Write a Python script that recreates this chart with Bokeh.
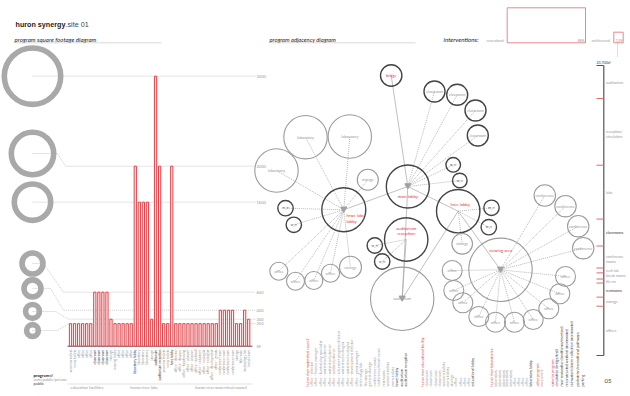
import math
from bokeh.plotting import figure
from bokeh.models import Range1d
from bokeh.core.properties import value
from bokeh.embed import file_html
from bokeh.resources import INLINE

FONT = value("Lato")
SANS = value("Liberation Sans")
RED = "#dd3b42"
PINK = "#e58a8f"
GRAY = "#8c8c8c"
DARK = "#333333"

# ---------------- program square footage data ----------------
bar_labels = ["womens toilets", "mens toilets", "office", "office", "office", "office",
              "classroom", "classroom", "classroom", "classroom", "storage",
              "viewing lobby", "office", "office", "office", "office",
              "laboratory lobby", "laboratory", "laboratory", "laboratory", "storage",
              "auditorium", "auditorium reception", "womens toilets", "mens toilets", "hrec lobby",
              "office - director", "office - finance", "office - fundraising", "office - planner",
              "office - planner", "office - wetland", "office - volunteer", "office - ecologist",
              "office - ecologist", "office - development", "office - grants",
              "conference room", "conference room", "conference room", "conference room",
              "storage", "file room", "technology lab", "break room"]
bar_values = [250, 250, 250, 250, 250, 250,
              600, 600, 600, 600, 300,
              250, 250, 250, 250, 250,
              2000, 1600, 1600, 1600, 300,
              3000, 2000, 250, 250, 2000,
              250, 250, 250, 250, 250, 250, 250, 250, 250, 250, 250,
              400, 400, 400, 400,
              250, 250, 400, 300]
bar_dark = [6, 7, 8, 9, 16, 21, 22, 25]
group_names = ["education facilities", "huron river labs", "huron river watershed council"]
level_values = [3000, 2000, 1600, 600, 400, 300, 250]
level_labels = ["3000", "2000", "1600", "600", "400", "300", "250"]

# ---------------- adjacency diagram data ----------------
node_names = ["bridge", "cls1", "cls2", "cls3", "cls4", "main", "hrwc", "audrec", "hrec",
              "rr1", "rr2", "rr3", "rr4", "rr5", "rr6", "rr7", "rr8",
              "lab1", "lab2", "lab3", "sto1", "sto2", "sto3", "aud", "view",
              "conf1", "conf2", "conf3", "conf4",
              "off1", "off2", "off3", "off4", "off5", "off6", "off7", "off8", "off9", "off10",
              "offL1", "offL2", "offL3", "offL4"]
node_labels = ["bridge", "classroom", "classroom", "classroom", "classroom", "", "", "", "",
               "m_rr", "w_rr", "m_rr", "w_rr", "m_rr", "w_rr", "m_rr", "w_rr",
               "laboratory", "laboratory", "laboratory", "storage", "storage", "storage", "auditorium", "",
               "conference", "conference", "conference", "conference",
               "office", "office", "office", "office", "office", "office", "office", "office", "office", "office",
               "office", "office", "office", "office"]
edges_solid = [("main", "bridge"), ("main", "hrwc"), ("main", "hrec"), ("main", "aud"),
               ("audrec", "aud"), ("hrec", "view"), ("hrec", "aud")]
edges_dotted = [("main", "cls1"), ("main", "cls2"), ("main", "cls3"), ("main", "cls4"),
                ("main", "rr3"), ("main", "rr4"),
                ("hrwc", "lab1"), ("hrwc", "lab2"), ("hrwc", "lab3"), ("hrwc", "sto1"),
                ("hrwc", "rr1"), ("hrwc", "rr2"), ("hrwc", "offL1"), ("hrwc", "offL2"),
                ("hrwc", "offL3"), ("hrwc", "offL4"), ("hrwc", "sto2"),
                ("audrec", "rr7"), ("audrec", "rr8"),
                ("hrec", "rr5"), ("hrec", "rr6"), ("hrec", "sto3"),
                ("view", "off1"), ("view", "off2"), ("view", "off3"), ("view", "off4"), ("view", "off5"),
                ("view", "off6"), ("view", "off7"), ("view", "off8"), ("view", "off9"), ("view", "off10"),
                ("view", "conf1"), ("view", "conf2"), ("view", "conf3"), ("view", "conf4")]
hub_labels = ["main lobby", "hrwc labs", "lobby", "auditorium", "reception", "hrec lobby", "viewing area"]

# ---------------- total area scale data ----------------
total_sf = 23700
scale_names = ["auditorium", "reception/", "labs", "classrooms", "conference", "tech lab",
               "break rooms", "file rm", "restrooms", "storage", "offices"]
scale_sf = [2700, 5450, 4400, 2200, 1800, 400, 500, 330, 1150, 740, 4030]

# ---------------- program lists ----------------
list_headers = ["huron river watershed council", "huron river educational facility",
                "huron river laboratories", "other program", "exterior program"]
list_items = [
    ["office - director", "office - finance manager", "office - fundraising specialist",
     "office - watershed planner", "office - watershed planner", "office - wetland planner",
     "office - volunteer program director", "office - watershed ecologist", "office - watershed ecologist",
     "office - development director", "office - grant manager", "technology lab", "file storage",
     "general storage", "conference rooms", "conference/break room", "restrooms", "womens toilets",
     "mens toilets", "lower lobby", "auditorium", "auditorium reception"],
    ["classroom", "classroom", "classroom", "classroom", "womens toilets", "mens toilets",
     "storage", "office", "office", "office", "office", "educational lobby"],
    ["laboratory", "laboratory", "laboratory", "laboratory", "laboratory", "office", "office",
     "office", "office", "laboratory lobby"],
    ["mezzanine"],
    ["circulation (bridge/trail)", "river restoration (landforms/riverbed)",
     "reconstructed wetland (stormwater)", "rainwater/cistern collection (stormwater)",
     "pedestrian/recreational pathways", "parking"],
]
interv_names = ["recreational", "architectural"]
interv_share = ["88%", "12%"]

# =============== layout (pixel positions of the sheet) ===============
W, H = 630, 396
SF0, SFK = 345.7, 0.09          # baseline px, px per sf
BX0, BDX = 70.0, 4.05           # first bar px, px per bar
SC0, SCK = 65.0, 290.0 / total_sf

p = figure(width=W, height=H, x_range=Range1d(0, W), y_range=Range1d(H, 0),
           output_backend="svg", toolbar_location=None, min_border=0,
           x_axis_location=None, y_axis_location=None)
p.grid.visible = False
p.outline_line_color = None
p.extra_y_ranges = {"sf": Range1d((SF0 - H) / SFK, SF0 / SFK),
                    "scale": Range1d((H - SC0) / SCK, (0 - SC0) / SCK)}
p.extra_x_ranges = {"bars": Range1d((0 - BX0) / BDX, (W - BX0) / BDX)}


def txt(x, y, t, size="4px", color=GRAY, align="left", base="middle", angle=0.0,
        style="normal", font=FONT, **kw):
    p.text(x=x, y=y, text=t, text_font=font, text_font_size=size, text_color=color,
           text_align=align, text_baseline=base, angle=angle, text_font_style=style, **kw)


# ---- headers
txt([15], [24], ["huron synergy"], size="7.2px", color="#222", style="bold", font=SANS)
txt([65], [24], [".site 01"], size="7.2px", color="#444", font=SANS)
txt([14], [39], ["program square footage diagram"], size="6.1px", color="#222", style="italic")
txt([269], [39], ["program adjacency diagram"], size="5.8px", color="#222", style="italic")
txt([443], [39], ["interventions:"], size="6.2px", color="#222", style="italic")
p.segment(x0=[14, 269], y0=[42.3, 42.3], x1=[161, 415], y1=[42.3, 42.3], line_color="#cccccc", line_width=0.7)

# ---- interventions
p.quad(left=[506.7, 613.3], right=[585, 622.7], top=[7.3, 31.7], bottom=[42.3, 42.3],
       fill_alpha=0, line_color=PINK, line_width=1)
txt([486, 591], [40, 40], interv_names, size="3.4px", color="#999")
txt([584, 622], [40, 40], interv_share, size="3.4px", color="#999", align="right")
p.segment(x0=[617], y0=[43], x1=[617], y1=[57], line_color="#999", line_width=0.6, line_dash="1 1")

# ---- left ring legend + reference levels
ring_x = 32
ring_y = [3000, 2141, 1600, 919, 642, 386, 174]
ring_r = [31, 24, 21, 13.3, 11.3, 9.7, 8.7]
ring_bend = [(None, None), (57, 65), (None, None), (43, 63), (50, 63), (55, 68), (57, 68)]
for lv, ry, (b1, b2) in zip(level_values, ring_y, ring_bend):
    if b1 is None:
        xs, ys = [ring_x, 255], [lv, lv]
    else:
        xs, ys = [ring_x, b1, b2, 255], [ry, ry, lv, lv]
    p.line(xs, ys, y_range_name="sf", line_color="#b5b5b5", line_width=0.7, line_dash="1 1")
p.circle(x=[ring_x] * 7, y=ring_y, radius=[r - 2.8 for r in ring_r], y_range_name="sf",
         fill_alpha=0, line_color="#a9a9a9", line_width=5.6)
txt([256] * 7, level_values, level_labels, size="4px", color="#999", y_range_name="sf")
txt([256], [0], ["SF"], size="4px", color="#999", y_range_name="sf")

# ---- bars
idx = list(range(len(bar_values)))
p.line([(67 - BX0) / BDX, (252 - BX0) / BDX], [0, 0], x_range_name="bars", y_range_name="sf",
       line_color="#555", line_width=1)
p.vbar(x=idx, top=bar_values, bottom=0, width=0.55, x_range_name="bars", y_range_name="sf",
       fill_color="#fdf1f1", line_color=RED, line_width=0.95)
lab_cols = [DARK if i in bar_dark else "#999" for i in idx]
p.text(x=idx, y=[-38] * len(idx), text=bar_labels, x_range_name="bars", y_range_name="sf",
       text_font=FONT, text_font_size="3.4px", text_color=lab_cols, text_align="right",
       text_baseline="middle", angle=math.pi / 2)
p.segment(x0=[67], y0=[383.5], x1=[252], y1=[383.5], line_color="#cccccc", line_width=0.6)
txt([(86.5 - BX0) / BDX, (143.5 - BX0) / BDX, (220.5 - BX0) / BDX], [387] * 3, group_names,
    size="4px", color="#999", align="center", x_range_name="bars")
txt([33], [374.5], ["program"], size="4.2px", color="#222", style="bold")
txt([49], [374.5], ["sf"], size="4.2px", color="#222")
txt([33, 33], [378.5, 382.5], ["semi public/private", "public"], size="4px", color=["#999", "#444"])

# ---- adjacency nodes
node_x = [390.7, 434, 456.7, 475, 477.3, 407.3, 343.3, 405.7, 457.7,
          285, 293.3, 452.7, 459.3, 491, 488.3, 374.3, 381.7,
          305, 349.3, 276, 367.3, 350, 461.7, 401.7, 500,
          544.3, 565, 577.7, 582.7,
          451.7, 453.3, 462.3, 478.3, 495, 514, 532.7, 548.3, 559.3, 565,
          278.3, 295, 313.3, 330]
node_y = [75, 91, 94.3, 110, 135, 186, 209.3, 239, 210.7,
          207.7, 224.3, 164.3, 180, 207.3, 226.7, 245, 261,
          136.7, 136, 170, 179.3, 266.7, 243.3, 298.3, 269.3,
          195, 205.7, 225.7, 247.7,
          270, 290, 302.3, 316, 321.7, 321.7, 319, 308.3, 293.3, 276,
          270.7, 280.7, 280, 272.7]
node_r = [10.7, 10.5, 10.5, 10.5, 10.5, 21.5, 22, 21.7, 21.7,
          7.7, 7.7, 7.3, 7.3, 7.7, 7.7, 7.7, 7.7,
          21.7, 21.7, 21.7, 10.5, 11, 10.3, 31.7, 31.7,
          10.7, 10.7, 10.7, 10.7,
          10, 10, 10, 10, 10, 10, 10, 10, 10, 10,
          9, 9, 9, 9]
dark_nodes = {"bridge", "cls1", "cls2", "cls3", "cls4", "main", "hrwc", "audrec", "hrec",
              "rr1", "rr2", "rr3", "rr4", "rr5", "rr6", "rr7", "rr8"}
pos = {n: (x, y) for n, x, y in zip(node_names, node_x, node_y)}

for elist, dash, col in ((edges_dotted, "1 1", "#9a9a9a"), (edges_solid, "solid", "#a5a5a5")):
    xs = [[pos[a][0], pos[b][0]] for a, b in elist]
    ys = [[pos[a][1], pos[b][1]] for a, b in elist]
    p.multi_line(xs, ys, line_color=col, line_width=0.7, line_dash=dash)

ncol = ["#444" if n in dark_nodes else "#9b9b9b" for n in node_names]
nw = [1.4 if n in dark_nodes else 1.1 for n in node_names]
p.circle(x=node_x, y=node_y, radius=node_r, fill_alpha=0, line_color=ncol, line_width=nw)

lab_color = [RED if l == "bridge" else ("#555" if l.endswith("rr") else "#999") for l in node_labels]
lab_size = ["3.2px" if l.endswith("rr") else "3.8px" for l in node_labels]
p.text(x=node_x, y=node_y, text=node_labels, text_font=FONT, text_font_size=lab_size,
       text_color=lab_color, text_align="center", text_baseline="middle")

# hub arrows and labels
hubs = ["main", "hrwc", "aud", "view"]
p.scatter(x=[pos[h][0] for h in hubs], y=[pos[h][1] - 1 for h in hubs], marker="inverted_triangle",
          size=6, fill_color="#a0a0a0", line_color="#a0a0a0")
txt([407.3, 346, 346, 405.7, 405.7, 459.7, 500], [196.3, 215.3, 220.7, 227.7, 232.7, 204.3, 250],
    hub_labels, size="4.2px", color=RED, align=["center", "left", "left", "center", "center", "center", "center"])

# ---- total area scale bar
cum = [0]
for v in scale_sf:
    cum.append(cum[-1] + v)
mids = [(a + b) / 2 for a, b in zip(cum[:-1], cum[1:])]
p.line([603.3, 603.3], [0, total_sf], y_range_name="scale", line_color="#555", line_width=1.2)
p.segment(x0=[596, 596], y0=[0, total_sf], x1=[603.3, 603.3], y1=[0, total_sf],
          y_range_name="scale", line_color="#555", line_width=1)
p.segment(x0=[596] * (len(cum) - 2), y0=cum[1:-1], x1=[603.3] * (len(cum) - 2), y1=cum[1:-1],
          y_range_name="scale", line_color="#e06a70", line_width=1)
sc_cols = [DARK if n in ("classrooms", "restrooms") else "#999" for n in scale_names]
txt([605.5] * len(mids), mids, scale_names, size="3.6px", color=sc_cols, y_range_name="scale")
txt([605.5, 605.5], [mids[1] + 400, mids[4] + 400], ["circulation", "rooms"], size="3.6px",
    color="#999", y_range_name="scale")
txt([596], [61.5], ["23,700sf"], size="3.6px", color="#333")
txt([604], [380], ["05"], size="6px", color="#444")

# ---- program lists (rotated)
list_x0 = [306.7, 422.3, 490.7, 537.3, 551.7]
list_dx = [4.5, 4.15, 3.9, 4.4, 5.2]
for hdr, items, x0, dx in zip(list_headers, list_items, list_x0, list_dx):
    xs = [x0] + [x0 + 4 + dx * k for k in range(len(items))]
    texts = [hdr] + items
    cols = [RED] + [DARK if (hdr == "exterior program" or it.endswith("lobby") or it.startswith("auditorium"))
                    else "#999" for it in items]
    p.text(x=xs, y=[386] * len(xs), text=texts, text_font=FONT, text_font_size="3.7px",
           text_color=cols, text_align="left", text_baseline="middle", angle=math.pi / 2)

open("out.html", "w").write(file_html(p, INLINE))
